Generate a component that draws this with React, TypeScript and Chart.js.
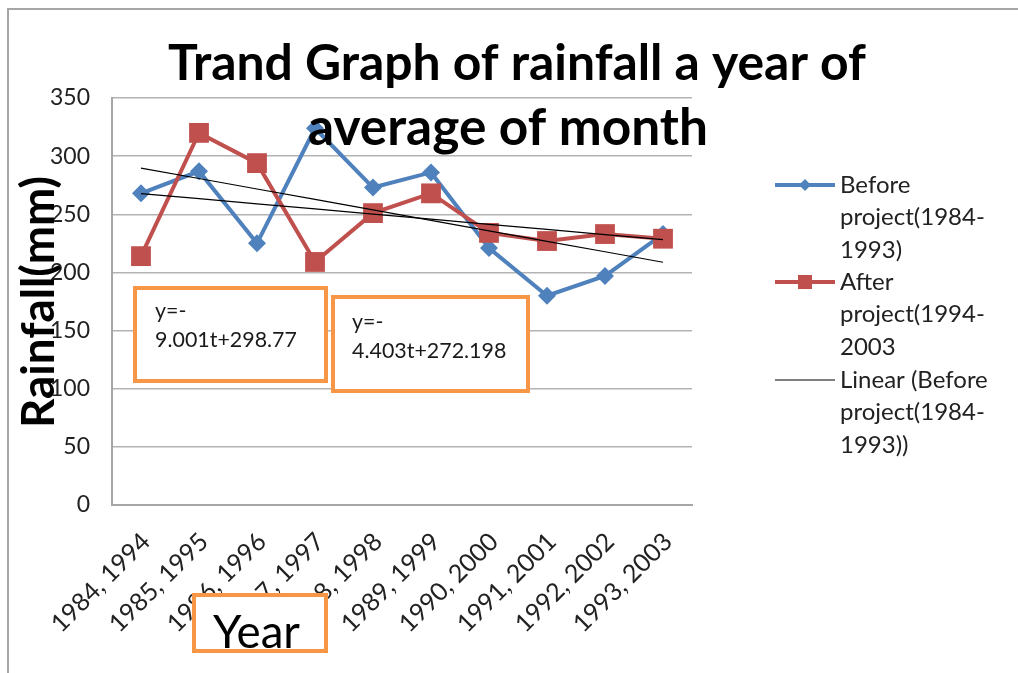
import React, { useEffect, useRef } from "react";
import { Chart, registerables } from "chart.js";

Chart.register(...registerables);

// ---------- data ----------
const CATEGORIES = [
  "1984, 1994", "1985, 1995", "1986, 1996", "1987, 1997", "1988, 1998",
  "1989, 1999", "1990, 2000", "1991, 2001", "1992, 2002", "1993, 2003",
];
const BEFORE_VALUES = [268, 287, 225, 324, 273, 286, 221, 180, 197, 233];
const AFTER_VALUES = [214, 320, 294, 209, 251, 268, 234, 227, 233, 229];
// trendline coefficients shown in the chart: y = slope * t + intercept
const TREND_BEFORE = [-9.001, 298.77];
const TREND_AFTER = [-4.403, 272.198];
const EQUATION_LINES_1 = ["y=-", "9.001t+298.77"];
const EQUATION_LINES_2 = ["y=-", "4.403t+272.198"];
const Y_MIN = 0;
const Y_MAX = 350;
const Y_STEP = 50;
const TITLE_LINES = ["Trand Graph of rainfall a year of", "average of month"];
const Y_TITLE = "Rainfall(mm)";
const X_TITLE = "Year";
const LEGEND_BEFORE = ["Before", "project(1984-", "1993)"];
const LEGEND_AFTER = ["After", "project(1994-", "2003"];
const LEGEND_LINEAR = ["Linear (Before", "project(1984-", "1993))"];

const BLUE = "#4F81BD";
const RED = "#C0504D";
const ORANGE = "#F79646";
const FONT = "Lato, 'Open Sans', sans-serif";

function fitFont(ctx: CanvasRenderingContext2D, text: string, weight: string, target: number) {
  ctx.font = `${weight} 100px ${FONT}`;
  const w = ctx.measureText(text).width;
  const size = (100 * target) / w;
  ctx.font = `${weight} ${size}px ${FONT}`;
  return size;
}

const overlayPlugin = {
  id: "overlay",
  beforeDraw(chart: any) {
    const ctx = chart.ctx as CanvasRenderingContext2D;
    ctx.save();
    ctx.fillStyle = "#ffffff";
    ctx.fillRect(0, 0, chart.width, chart.height);
    ctx.restore();
  },
  afterDraw(chart: any) {
    const ctx = chart.ctx as CanvasRenderingContext2D;
    ctx.save();
    // outer frame
    ctx.strokeStyle = "#a6a6a6";
    ctx.lineWidth = 2;
    ctx.beginPath();
    ctx.moveTo(8, chart.height + 2);
    ctx.lineTo(8, 9);
    ctx.lineTo(chart.width + 2, 9);
    ctx.stroke();

    // equation boxes
    const drawBox = (x: number, y: number, w: number, h: number) => {
      ctx.fillStyle = "#ffffff";
      ctx.fillRect(x, y, w, h);
      ctx.strokeStyle = ORANGE;
      ctx.lineWidth = 4;
      ctx.strokeRect(x, y, w, h);
    };
    drawBox(135, 288, 191, 93);
    drawBox(333, 297, 195, 94);
    ctx.fillStyle = "#1a1a1a";
    ctx.textAlign = "left";
    ctx.textBaseline = "alphabetic";
    const eqSize = fitFont(ctx, EQUATION_LINES_1[1], "normal", 142);
    ctx.font = `${eqSize}px ${FONT}`;
    ctx.fillText(EQUATION_LINES_1[0], 155, 318);
    ctx.fillText(EQUATION_LINES_1[1], 155, 347);
    ctx.fillText(EQUATION_LINES_2[0], 352, 329);
    ctx.fillText(EQUATION_LINES_2[1], 352, 358);

    // x title box
    drawBox(194, 595, 132, 56);
    ctx.fillStyle = "#000000";
    fitFont(ctx, X_TITLE, "normal", 87);
    ctx.textAlign = "left";
    ctx.fillText(X_TITLE, 213, 648);

    // title
    ctx.fillStyle = "#000000";
    ctx.textAlign = "center";
    fitFont(ctx, TITLE_LINES[0], "bold", 698);
    ctx.fillText(TITLE_LINES[0], 517, 80);
    fitFont(ctx, TITLE_LINES[1], "bold", 400);
    ctx.fillText(TITLE_LINES[1], 508, 145);

    // y title
    ctx.save();
    ctx.translate(54, 302);
    ctx.rotate(-Math.PI / 2);
    fitFont(ctx, Y_TITLE, "bold", 252);
    ctx.textAlign = "center";
    ctx.fillText(Y_TITLE, 0, 0);
    ctx.restore();

    // legend
    const legendX = 775;
    const textX = 840;
    const lineH = 32.5;
    ctx.font = `24px ${FONT}`;
    ctx.textAlign = "left";
    ctx.textBaseline = "middle";
    const drawEntry = (lines: string[], y0: number, color: string, width: number, marker: string) => {
      ctx.strokeStyle = color;
      ctx.lineWidth = width;
      ctx.beginPath();
      ctx.moveTo(legendX, y0);
      ctx.lineTo(legendX + 60, y0);
      ctx.stroke();
      ctx.fillStyle = color;
      const cx = legendX + 30;
      if (marker === "diamond") {
        ctx.beginPath();
        ctx.moveTo(cx, y0 - 6);
        ctx.lineTo(cx + 6, y0);
        ctx.lineTo(cx, y0 + 6);
        ctx.lineTo(cx - 6, y0);
        ctx.closePath();
        ctx.fill();
      } else if (marker === "square") {
        ctx.fillRect(cx - 7, y0 - 7, 14, 14);
      }
      ctx.fillStyle = "#222222";
      lines.forEach((t, i) => ctx.fillText(t, textX, y0 + i * lineH));
    };
    drawEntry(LEGEND_BEFORE, 185, BLUE, 4, "diamond");
    drawEntry(LEGEND_AFTER, 282, RED, 4, "square");
    drawEntry(LEGEND_LINEAR, 380, "#000000", 1.2, "none");
    ctx.restore();
  },
};

export default function App() {
  const ref = useRef<HTMLCanvasElement | null>(null);
  useEffect(() => {
    if (!ref.current) return;
    const trend = (c: number[]) => CATEGORIES.map((_, i) => c[0] * (i + 1) + c[1]);
    const chart = new Chart(ref.current, {
      type: "line",
      data: {
        labels: CATEGORIES,
        datasets: [
          {
            label: "Before project(1984-1993)",
            data: BEFORE_VALUES,
            borderColor: BLUE,
            backgroundColor: BLUE,
            borderWidth: 4,
            pointStyle: "rectRot",
            pointRadius: 9,
            pointBorderWidth: 0,
            order: 2,
          },
          {
            label: "After project(1994-2003",
            data: AFTER_VALUES,
            borderColor: RED,
            backgroundColor: RED,
            borderWidth: 4,
            pointStyle: "rect",
            pointRadius: 14,
            pointBorderWidth: 0,
            order: 1,
          },
          {
            label: "Linear (Before project(1984-1993))",
            data: trend(TREND_BEFORE),
            borderColor: "#000000",
            borderWidth: 1.2,
            pointRadius: 0,
            order: 0,
          },
          {
            label: "Linear (After project(1994-2003)",
            data: trend(TREND_AFTER),
            borderColor: "#000000",
            borderWidth: 1.2,
            pointRadius: 0,
            order: 0,
          },
        ],
      },
      options: {
        animation: false,
        responsive: false,
        layout: { padding: { left: 0, top: 98, right: 326, bottom: 0 } },
        plugins: {
          legend: { display: false },
          title: { display: false },
          tooltip: { enabled: false },
        },
        scales: {
          x: {
            offset: true,
            grid: { display: false, drawTicks: false },
            border: { display: true, color: "#a6a6a6", width: 2 },
            ticks: {
              color: "#222222",
              font: { family: FONT, size: 25 },
              maxRotation: 45,
              minRotation: 45,
              padding: 22,
              labelOffset: 5,
              autoSkip: false,
            },
            afterFit: (s: any) => {
              s.height = 168;
            },
          },
          y: {
            min: Y_MIN,
            max: Y_MAX,
            grid: { color: "#b3b3b3", lineWidth: 1.5, drawTicks: false },
            border: { display: true, color: "#a6a6a6", width: 2 },
            ticks: {
              stepSize: Y_STEP,
              color: "#222222",
              font: { family: FONT, size: 23 },
              padding: 22,
            },
            afterFit: (s: any) => {
              s.width = 112;
            },
          },
        },
      },
      plugins: [overlayPlugin],
    });
    return () => chart.destroy();
  }, []);
  return (
    <div style={{ position: "absolute", left: 0, top: 0, width: 1018, height: 673 }}>
      <canvas ref={ref} width={1018} height={673} style={{ display: "block" }} />
    </div>
  );
}
